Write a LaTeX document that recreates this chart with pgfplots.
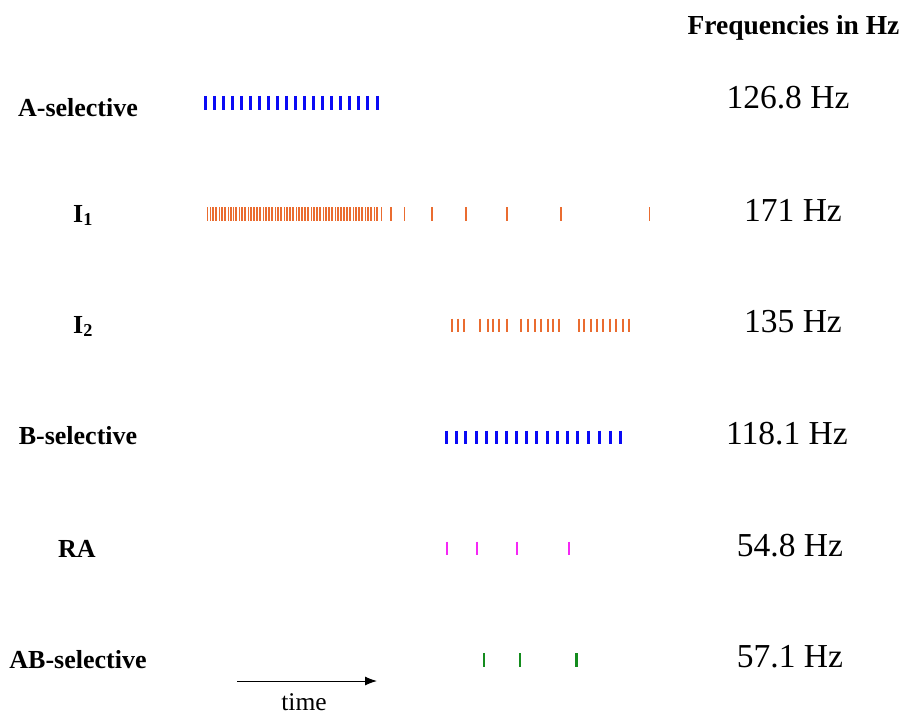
\documentclass[border=0pt]{standalone}
\usepackage{pgfplots}
\pgfplotsset{compat=1.18}
\usepackage{fontspec}
\setmainfont{Liberation Serif}
\usetikzlibrary{arrows.meta}

\definecolor{spikeblue}{RGB}{10,10,245}
\definecolor{spikeorange}{RGB}{234,108,48}
\definecolor{spikemagenta}{RGB}{245,40,245}
\definecolor{spikegreen}{RGB}{20,140,30}

\tikzset{
  lbl/.style={font=\fontsize{26}{29}\selectfont\bfseries, anchor=base},
  hz/.style={font=\fontsize{33.5}{37}\selectfont, anchor=base},
}

\begin{document}
\begin{tikzpicture}
\begin{axis}[
  scale only axis, width=904pt, height=716pt,
  xmin=0, xmax=904, ymin=0, ymax=716, y dir=reverse,
  hide axis, clip=false,
]
% A-selective
\addplot[only marks, mark=|, mark size=6.8pt, mark options={line width=3pt, spikeblue}]
coordinates {(205.7,102.7)(214.7,102.7)(223.3,102.7)(232.3,102.7)(241.3,102.7)(250.3,102.7)(259.3,102.7)(268.3,102.7)(277,102.7)(286,102.7)(295,102.7)(304,102.7)(313,102.7)(322,102.7)(331,102.7)(340,102.7)(349,102.7)(358.3,102.7)(367.7,102.7)(377.7,102.7)};
% I1
\addplot[only marks, mark=|, mark size=6.8pt, mark options={line width=1.6pt, spikeorange}]
coordinates {(207.5,214)(210.5,214)(213,214)(216,214)(219.5,214)(222,214)(225,214)(228.5,214)(231,214)(233.5,214)(236,214)(239.5,214)(242,214)(245,214)(248.5,214)(251,214)(254,214)(257,214)(260,214)(263.5,214)(266,214)(269,214)(272,214)(275.5,214)(278,214)(281,214)(284.5,214)(287,214)(290,214)(293,214)(296.5,214)(299,214)(302,214)(305,214)(308,214)(311.5,214)(314,214)(317,214)(320,214)(323.5,214)(326,214)(329,214)(332,214)(335.5,214)(338,214)(341,214)(344,214)(347,214)(350,214)(353.5,214)(356,214)(359,214)(362,214)(365.5,214)(368,214)(371,214)(374.5,214)(377,214)(381.5,214)(391,214)(404.3,214)(431.7,214)(465.7,214)(506.7,214)(560.7,214)(649.3,214)};
% I2
\addplot[only marks, mark=|, mark size=6.8pt, mark options={line width=1.8pt, spikeorange}]
coordinates {(451.7,325.5)(458.3,325.5)(464.3,325.5)(480,325.5)(487.7,325.5)(493.3,325.5)(499.3,325.5)(506.7,325.5)(521,325.5)(528.3,325.5)(535,325.5)(540.7,325.5)(547.7,325.5)(553.3,325.5)(559,325.5)(579.3,325.5)(584,325.5)(591,325.5)(597.3,325.5)(603.3,325.5)(610,325.5)(615.7,325.5)(622.7,325.5)(629.3,325.5)};
% B-selective
\addplot[only marks, mark=|, mark size=6.8pt, mark options={line width=3pt, spikeblue}]
coordinates {(446.7,437.5)(456,437.5)(465.7,437.5)(476,437.5)(486.7,437.5)(496,437.5)(506,437.5)(516,437.5)(526,437.5)(536.7,437.5)(547.3,437.5)(557.3,437.5)(567.7,437.5)(577.7,437.5)(588.3,437.5)(599,437.5)(610,437.5)(620.7,437.5)};
% RA
\addplot[only marks, mark=|, mark size=6.8pt, mark options={line width=2pt, spikemagenta}]
coordinates {(447.3,548.3)(476.7,548.3)(517.3,548.3)(569,548.3)};
% AB-selective
\addplot[only marks, mark=|, mark size=6.8pt, mark options={line width=2.8pt, spikegreen}]
coordinates {(484,660)(520,660)(576.7,660)};

% row labels
\node[lbl] at (axis cs:78,116) {A-selective};
\node[lbl] at (axis cs:83,222) {I\textsubscript{1}};
\node[lbl] at (axis cs:83,333) {I\textsubscript{2}};
\node[lbl] at (axis cs:78,444) {B-selective};
\node[lbl] at (axis cs:77,557) {RA};
\node[lbl] at (axis cs:78,668) {AB-selective};

% firing rates
\node[font=\fontsize{27.5}{30}\selectfont\bfseries, anchor=base] at (axis cs:793.5,34) {Frequencies in Hz};
\node[hz] at (axis cs:788,108) {126.8 Hz};
\node[hz] at (axis cs:793,221) {171 Hz};
\node[hz] at (axis cs:793,332) {135 Hz};
\node[hz] at (axis cs:787,444) {118.1 Hz};
\node[hz] at (axis cs:790,556) {54.8 Hz};
\node[hz] at (axis cs:790,667) {57.1 Hz};

% time arrow
\draw[line width=1pt, -{Latex[length=12pt,width=9pt]}] (axis cs:237,681) -- (axis cs:377,681);
\node[font=\fontsize{25.5}{28}\selectfont, anchor=base] at (axis cs:304,710) {time};

\coordinate (frameTL) at (axis cs:0,0);
\coordinate (frameBR) at (axis cs:904,716);
\end{axis}
\pgfresetboundingbox
\path[use as bounding box] (frameTL) rectangle (frameBR);
\end{tikzpicture}
\end{document}
